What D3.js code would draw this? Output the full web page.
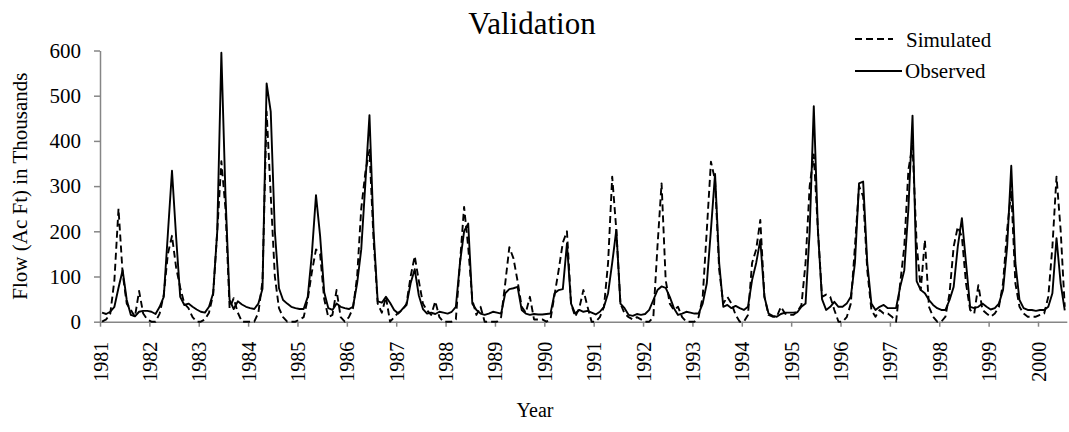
<!DOCTYPE html>
<html>
<head>
<meta charset="utf-8">
<script src="https://cdn.jsdelivr.net/npm/d3@7"></script>
<style>
  body { margin: 0; background: #fff; }
  svg text { font-family: "Liberation Serif", "Times New Roman", serif; fill: #000; }
  .axis path, .axis line { stroke: #868686; stroke-width: 1.5; }
  .line { fill: none; stroke: #000; stroke-width: 1.9; stroke-linejoin: round; }
  .sim { stroke-dasharray: 7,4; }
</style>
</head>
<body>
<div id="chart"></div>
<script>
// Monthly flow (thousand ac-ft), Jan 1981 - Jul 2000
var observed = [
  20, 17, 22, 33, 75, 114, 48, 15, 12, 22, 24, 24,
  22, 17, 33, 55, 195, 334, 188, 55, 37, 40, 33, 27,
  22, 20, 33, 63, 200, 595, 280, 48, 28, 45, 38, 33,
  30, 28, 40, 73, 527, 465, 200, 74, 48, 40, 33, 30,
  28, 28, 55, 150, 280, 190, 65, 30, 26, 40, 33, 30,
  28, 33, 85, 160, 306, 457, 200, 45, 42, 55, 42, 26,
  18, 28, 37, 85, 116, 58, 28, 18, 20, 17, 22, 20,
  18, 22, 33, 130, 200, 217, 40, 26, 18, 15, 18, 22,
  20, 18, 63, 72, 74, 77, 26, 18, 15, 17, 16, 16,
  17, 18, 63, 70, 72, 173, 40, 18, 26, 22, 24, 20,
  16, 22, 33, 63, 130, 203, 40, 30, 15, 13, 17, 15,
  17, 26, 48, 70, 78, 75, 55, 30, 15, 18, 22, 20,
  18, 18, 40, 85, 203, 327, 130, 33, 37, 30, 35, 30,
  26, 33, 92, 130, 181, 55, 18, 13, 11, 17, 20, 20,
  20, 21, 33, 40, 200, 477, 203, 50, 26, 33, 44, 33,
  33, 40, 55, 130, 306, 310, 130, 40, 26, 33, 37, 30,
  30, 30, 77, 114, 250, 456, 90, 70, 63, 48, 37, 30,
  26, 26, 48, 77, 166, 229, 130, 33, 30, 33, 40, 33,
  27, 30, 40, 70, 166, 345, 130, 48, 30, 26, 26, 24,
  26, 26, 33, 63, 185, 85, 25
];

var simulated = [
  0, 5, 18, 92, 250, 107, 40, 26, 11, 68, 18, 5,
  0, 0, 18, 60, 150, 190, 120, 75, 40, 30, 10, 0,
  0, 5, 20, 60, 200, 355, 250, 30, 52, 20, 0, 0,
  0, 0, 20, 90, 465, 280, 100, 30, 10, 0, 0, 0,
  5, 10, 50, 110, 160, 150, 50, 10, 15, 70, 10, 0,
  10, 30, 100, 250, 330, 380, 180, 40, 20, 55, 0, 10,
  20, 25, 40, 100, 145, 90, 40, 25, 15, 45, 10, 0,
  0, 0, 5, 130, 254, 165, 48, 15, 33, 0, 0, 0,
  0, 10, 85, 165, 140, 90, 33, 20, 55, 5, 5, 5,
  0, 5, 60, 115, 175, 200, 40, 11, 30, 70, 33, 0,
  0, 10, 33, 130, 321, 203, 40, 18, 10, 5, 10, 5,
  0, 0, 10, 166, 306, 92, 40, 26, 33, 10, 0, 0,
  0, 10, 55, 203, 354, 313, 115, 40, 55, 40, 15, 0,
  0, 15, 130, 160, 225, 55, 15, 11, 11, 33, 18, 15,
  15, 22, 37, 130, 300, 370, 203, 55, 60, 55, 26, 0,
  0, 10, 40, 166, 300, 277, 114, 26, 11, 26, 18, 18,
  11, 0, 85, 166, 336, 390, 173, 70, 181, 33, 11, 0,
  0, 11, 63, 166, 210, 188, 85, 26, 18, 81, 26, 18,
  11, 18, 33, 85, 203, 290, 85, 33, 18, 11, 11, 11,
  15, 18, 55, 166, 321, 203, 33
];

var yearLabels = [1981, 1982, 1983, 1984, 1985, 1986, 1987, 1988, 1989, 1990,
                  1991, 1992, 1993, 1994, 1995, 1996, 1997, 1998, 1999, 2000];
var yTicks = [0, 100, 200, 300, 400, 500, 600];

var width = 1069, height = 432;
var margin = {left: 100, right: 2.2, top: 50.5, bottom: 110.3};
var nMonths = observed.length;
var serif = '"Liberation Serif", "Times New Roman", serif';

var svg = d3.select("#chart")
  .append("svg")
  .attr("width", width)
  .attr("height", height)
  .attr("font-family", serif);

var x = d3.scaleLinear().domain([0, nMonths]).range([margin.left, width - margin.right]);
var y = d3.scaleLinear().domain([0, 600]).range([height - margin.bottom, margin.top]);

// Axes
var xAxis = d3.axisBottom(x)
  .tickValues(yearLabels.map(function(d, i) { return i * 12; }))
  .tickFormat(function(d) { return yearLabels[d / 12]; })
  .tickSize(5)
  .tickSizeOuter(0);

var yAxis = d3.axisLeft(y)
  .tickValues(yTicks)
  .tickSize(6)
  .tickSizeOuter(0);

var gx = svg.append("g")
  .attr("class", "x axis")
  .attr("transform", "translate(0," + y(0) + ")")
  .call(xAxis)
  .attr("font-family", serif);
gx.selectAll("text")
  .attr("transform", "rotate(-90)")
  .attr("x", -20)
  .attr("y", 0)
  .attr("dy", "0.35em")
  .style("text-anchor", "end")
  .style("font-size", "20px");

var gy = svg.append("g")
  .attr("class", "y axis")
  .attr("transform", "translate(" + margin.left + ",0)")
  .call(yAxis)
  .attr("font-family", serif);
gy.selectAll("text")
  .attr("x", -19)
  .style("font-size", "21px");

// Lines
var line = d3.line()
  .x(function(d, i) { return x(i + 0.5); })
  .y(function(d) { return y(d); });

svg.append("path")
  .attr("class", "line sim")
  .attr("d", line(simulated));

svg.append("path")
  .attr("class", "line obs")
  .attr("d", line(observed));

// Titles
svg.append("text")
  .attr("x", 532)
  .attr("y", 33.5)
  .attr("text-anchor", "middle")
  .style("font-size", "31px")
  .text("Validation");

svg.append("text")
  .attr("transform", "translate(27," + ((y(0) + y(600)) / 2) + ") rotate(-90)")
  .attr("text-anchor", "middle")
  .style("font-size", "21px")
  .text("Flow (Ac Ft) in Thousands");

svg.append("text")
  .attr("x", 535)
  .attr("y", 417)
  .attr("text-anchor", "middle")
  .style("font-size", "20px")
  .text("Year");

// Legend
var legend = svg.append("g");
legend.append("line")
  .attr("class", "line sim")
  .attr("x1", 855).attr("x2", 893)
  .attr("y1", 39).attr("y2", 39);
legend.append("text")
  .attr("x", 906).attr("y", 46.5)
  .style("font-size", "21px")
  .text("Simulated");
legend.append("line")
  .attr("class", "line")
  .attr("x1", 855).attr("x2", 902)
  .attr("y1", 71).attr("y2", 71);
legend.append("text")
  .attr("x", 905).attr("y", 78)
  .style("font-size", "21px")
  .text("Observed");
</script>
</body>
</html>
